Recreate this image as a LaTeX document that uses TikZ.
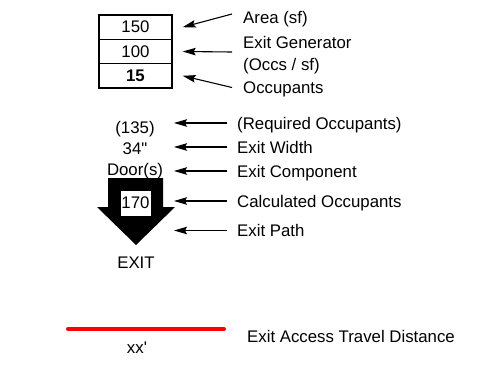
\documentclass[tikz,border=0pt]{standalone}
\usepackage{fontspec}
\setmainfont{Liberation Sans}
\usetikzlibrary{positioning,arrows.meta}
\tikzset{
  count box/.style={
    draw,
    line width=1.3pt,
    minimum width=73pt,
    minimum height=24.3pt,
    inner sep=0pt,
  },
  legend text/.style={
    anchor=west,
    inner sep=0pt,
    text height=12pt,
    text depth=0pt,
  },
  value text/.style={
    inner sep=0pt,
    text height=12pt,
    text depth=0pt,
  },
  pointer/.style={
    -{Stealth[length=13pt,width=7.5pt,inset=2pt]},
    line width=1.1pt,
  },
  travel/.style={
    draw=red,
    line width=4pt,
    line cap=round,
  }
}

\begin{document}
\begin{tikzpicture}[x=1pt,y=-1pt,node distance=-1.3pt,font=\fontsize{16.8}{20}\selectfont]
        \useasboundingbox (0,0) rectangle (484,377);

        % occupant load stack
        \node [count box] (area) at (135.5,27.2) {150};
        \node [count box, below=of area] (gen) {100};
        \node [count box, below=of gen] (occ) {\bfseries 15};

        \node [legend text] (larea) at (243,18) {Area (sf)};
        \node [legend text] (lgen) at (243,43) {Exit Generator};
        \node [legend text] (lgenb) at (243,65) {(Occs / sf)};
        \node [legend text] (locc) at (243,87.5) {Occupants};

        \draw [pointer] ([shift={(-11,-4)}]larea.west) -- ([shift={(10,0)}]area.east);
        \draw [pointer] ([shift={(-11,9)}]lgen.west) -- ([shift={(10,0)}]gen.east);
        \draw [pointer] ([shift={(-11,0)}]locc.west) -- ([shift={(10,0)}]occ.east);

        % exit component
        \fill (108,178) -- (163,178) -- (163,207) -- (175,207) -- (136,245)
              -- (97,207) -- (108,207) -- cycle;
        \node [value text] (req) at (135,127) {(135)};
        \node [value text] (width) at (135,148) {34\textquotedbl};
        \node [value text] (door) at (135,169) {Door(s)};
        \node [draw, fill=white, line width=0.6pt, minimum width=31pt,
               minimum height=26pt, inner sep=0pt] (calc) at (135.5,203) {170};
        \node [value text] (exit) at (136,262) {EXIT};

        \coordinate (tipcol) at (174,0);
        \node [legend text] (lreq) at (237,123) {(Required Occupants)};
        \node [legend text] (lwidth) at (237,147) {Exit Width};
        \node [legend text] (lcomp) at (237,171) {Exit Component};
        \node [legend text] (lcalc) at (237,201) {Calculated Occupants};
        \node [legend text] (lpath) at (237,230.5) {Exit Path};

        \foreach \l in {lreq,lwidth,lcomp,lcalc,lpath}
          \draw [pointer] ([shift={(-10,0)}]\l.west) -- (\l -| tipcol);

        % travel distance
        \coordinate (trs) at (68,329);
        \coordinate (tre) at (224,329);
        \draw [travel] (trs) -- (tre);
        \node [value text] (dist) at (137,347) {xx\textquotesingle};
        \node [legend text] (ltravel) at (247,336) {Exit Access Travel Distance};
      \end{tikzpicture}
\end{document}
